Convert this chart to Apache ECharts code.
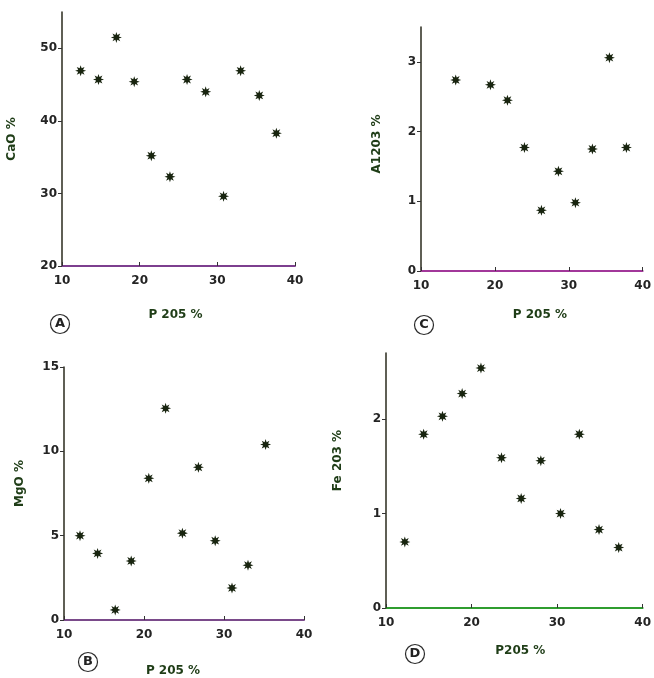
<!DOCTYPE html>
<html><head><meta charset="utf-8">
<script src="https://cdn.jsdelivr.net/npm/echarts@6/dist/echarts.min.js"></script>
<style>html,body{margin:0;padding:0;background:#fff}#c{width:654px;height:678px}</style>
</head><body><div id="c"></div>
<script>
// Panel A: CaO % vs P2O5 %
const caoP2O5 = [12.4, 14.7, 17.0, 19.3, 21.5, 23.9, 26.1, 28.5, 30.8, 33.0, 35.4, 37.6];
const caoVals = [46.9, 45.7, 51.5, 45.4, 35.2, 32.3, 45.7, 44.0, 29.6, 46.9, 43.5, 38.3];
// Panel C: Al2O3 % vs P2O5 %
const alP2O5 = [14.7, 19.4, 21.7, 24.0, 26.3, 28.6, 30.9, 33.2, 35.5, 37.8];
const alVals = [2.74, 2.67, 2.45, 1.77, 0.87, 1.43, 0.98, 1.75, 3.06, 1.77];
// Panel B: MgO % vs P2O5 %
const mgP2O5 = [12.0, 14.2, 16.4, 18.4, 20.6, 22.7, 24.8, 26.8, 28.9, 31.0, 33.0, 35.2];
const mgVals = [5.0, 3.95, 0.6, 3.5, 8.4, 12.55, 5.15, 9.05, 4.7, 1.9, 3.25, 10.4];
// Panel D: Fe2O3 % vs P2O5 %
const feP2O5 = [12.2, 14.4, 16.6, 18.9, 21.1, 23.5, 25.8, 28.1, 30.4, 32.6, 34.9, 37.2];
const feVals = [0.70, 1.84, 2.03, 2.27, 2.54, 1.59, 1.16, 1.56, 1.00, 1.84, 0.83, 0.64];

const xTicks = [10, 20, 30, 40];
const caoTicks = [20, 30, 40, 50];
const alTicks = [0, 1, 2, 3];
const mgTicks = [0, 5, 10, 15];
const feTicks = [0, 1, 2];
const xName = ['P 205 %', 'P 205 %', 'P 205 %', 'P205 %'];
const yNames = ['CaO %', 'A1203 %', 'MgO %', 'Fe 203 %'];
const panelLetters = ['A', 'C', 'B', 'D'];

function zip(a, b) { return a.map((v, i) => [v, b[i]]); }

// asterisk-like star symbol
let p = '';
for (let i = 0; i < 16; i++) {
  const r = i % 2 === 0 ? 10 : 4.8;
  const a = Math.PI * 2 * i / 16 - Math.PI / 2;
  p += (i === 0 ? 'M' : 'L') + (10 + r * Math.cos(a)).toFixed(2) + ' ' + (10 + r * Math.sin(a)).toFixed(2) + ' ';
}
const star = 'path://' + p + 'Z';

const font = 'DejaVu Sans';
const tickColor = '#242424';
const nameColor = '#1f3d17';

const grids = [
  { left: 62, top: 12, width: 233, height: 254 },
  { left: 421, top: 27, width: 224, height: 244 },
  { left: 64, top: 367, width: 240, height: 257 },
  { left: 386, top: 353, width: 261, height: 255 }
];
const xLineColors = ['#7d3f8f', '#a2379a', '#7a4a8a', '#2f9d2f'];
const yRanges = [[20, 55, caoTicks, 44], [0, 3.5, alTicks, 38], [0, 15, mgTicks, 38], [0, 2.7, feTicks, 42]];
const yNamePad = [[0, 0, 0, 0], [0, 0, 0, 10], [0, 0, 0, 20], [0, 0, 0, 40]];
const xNameGaps = [43, 38, 45, 37];
const xNamePad = [[0, 6, 0, 0], [0, 0, 0, 16], [0, 22, 0, 0], [0, 0, 0, 12]];

const xAxis = grids.map((g, i) => ({
  gridIndex: i, type: 'value', min: 10, max: 40,
  name: xName[i], nameLocation: 'middle', nameGap: xNameGaps[i],
  nameTextStyle: { fontFamily: font, fontSize: 12, fontWeight: 'bold', color: nameColor, padding: xNamePad[i] },
  axisLine: { lineStyle: { color: xLineColors[i], width: 2 } },
  axisTick: { inside: true, length: 4, customValues: xTicks, lineStyle: { color: '#333' } },
  axisLabel: { customValues: xTicks, fontFamily: font, fontSize: 12, fontWeight: 'bold', color: tickColor, margin: 9 },
  splitLine: { show: false }
}));
const yAxis = grids.map((g, i) => ({
  gridIndex: i, type: 'value', min: yRanges[i][0], max: yRanges[i][1],
  name: yNames[i], nameLocation: 'middle', nameGap: yRanges[i][3], nameRotate: 90,
  nameTextStyle: { fontFamily: font, fontSize: 12, fontWeight: 'bold', color: nameColor, padding: yNamePad[i] },
  axisLine: { show: true, lineStyle: { color: '#2a2a1c', width: 1.5 } },
  axisTick: { show: true, length: 4, customValues: yRanges[i][2], lineStyle: { color: '#333' } },
  axisLabel: { customValues: yRanges[i][2], fontFamily: font, fontSize: 12, fontWeight: 'bold', color: tickColor, margin: 5 },
  splitLine: { show: false }
}));
const datasets = [zip(caoP2O5, caoVals), zip(alP2O5, alVals), zip(mgP2O5, mgVals), zip(feP2O5, feVals)];
const series = datasets.map((d, i) => ({
  type: 'scatter', xAxisIndex: i, yAxisIndex: i, data: d,
  symbol: star, symbolSize: 11, itemStyle: { color: '#18240f', opacity: 1 }
}));

const letterPos = [[58, 322], [422, 323], [86, 660], [413, 652]];
const graphic = letterPos.map((pp, i) => ({
  type: 'group', left: pp[0] - 10, top: pp[1] - 10,
  children: [
    { type: 'circle', shape: { cx: 10, cy: 10, r: 9.5 }, style: { fill: 'none', stroke: '#2a2a2a', lineWidth: 1.2 } },
    { type: 'text', x: 10, y: 10, style: { text: panelLetters[i], font: 'bold 13px DejaVu Sans', fill: '#222', align: 'center', verticalAlign: 'middle' } }
  ]
}));

const chart = echarts.init(document.getElementById('c'), null, { renderer: 'canvas' });
chart.setOption({ animation: false, grid: grids, xAxis, yAxis, series, graphic });
</script>
</body></html>
